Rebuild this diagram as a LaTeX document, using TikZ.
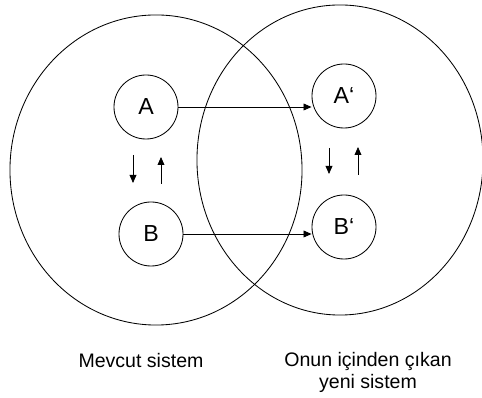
\documentclass[tikz,border=0pt]{standalone}
\usepackage{fontspec}
\setmainfont{Liberation Sans}
\usetikzlibrary{arrows.meta, positioning, shapes.geometric}
\tikzset{>={Triangle[length=2mm, width=1.7mm]}}

\begin{document}
\begin{tikzpicture}[x=0.025cm, y=-0.025cm, line width=0.6pt,
        every node/.style={font=\fontsize{13.9}{15.6}\selectfont},
        sys/.style={draw, ellipse, minimum width=7.3cm, minimum height=7.75cm},
        elem/.style={draw, circle, minimum size=1.6cm, inner sep=0pt,
            font=\fontsize{16.5}{18}\selectfont}]
        \useasboundingbox (0,0) rectangle (482,398);

        \node[sys] (S) at (156,170) {};
        \node[sys, minimum width=7.15cm] (N) at (340,160) {};

        \node[elem] (A) at (146,107) {A};
        \node[elem] (B) at (151,234) {B};
        \node[elem] (Ap) at (344,96) {A‘};
        \node[elem] (Bp) at (344,227) {B‘};

        \draw[->] (A.east) -- (A.east -| Ap.west);
        \draw[->] (B.east) -- (B.east -| Bp.west);

        \coordinate (d1) at (133,155);
        \coordinate (d2) at (133,183);
        \coordinate (u1) at (161,184);
        \coordinate (u2) at (161,157);
        \coordinate (d3) at (329,148);
        \coordinate (d4) at (329,174);
        \coordinate (u3) at (358,175);
        \coordinate (u4) at (358,147);
        \draw[->] (d1) -- (d2);
        \draw[->] (u1) -- (u2);
        \draw[->] (d3) -- (d4);
        \draw[->] (u3) -- (u4);

        \node (Slabel) at (141,361) {Mevcut sistem};
        \node[align=center] (Nlabel) at (368,372) {Onun içinden çıkan\\yeni sistem};
\end{tikzpicture}
\end{document}
